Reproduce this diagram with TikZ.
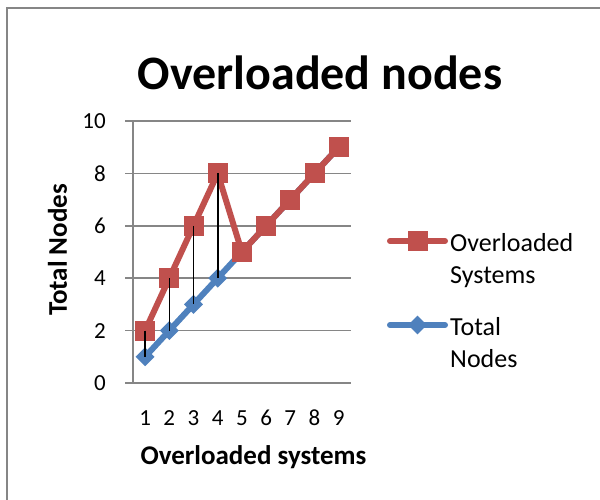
\documentclass[tikz,border=0pt]{standalone}
\usepackage{fontspec}
\setmainfont{Carlito}
\usetikzlibrary{shapes.geometric}
\definecolor{serred}{HTML}{C0504D}
\definecolor{serblue}{HTML}{4F81BD}
\definecolor{gridgray}{HTML}{868686}
\begin{document}
\begin{tikzpicture}[x=1pt,y=1pt,
  gridline/.style={draw=gridgray, line width=1.5pt},
  redseries/.style={draw=serred, line width=6pt, line join=round, line cap=round},
  blueseries/.style={draw=serblue, line width=6pt, line join=round, line cap=round},
  sqmark/.style={rectangle, fill=serred, minimum size=20pt, inner sep=0pt},
  dmmark/.style={diamond, fill=serblue, minimum width=19pt, minimum height=19pt, inner sep=0pt, aspect=1},
  dropline/.style={draw=black, line width=1.6pt},
  ticklabel/.style={font=\fontsize{23}{28}\selectfont, inner sep=0pt},
  axtitle/.style={font=\fontsize{27}{32}\selectfont\bfseries, inner sep=0pt},
  legtext/.style={font=\fontsize{26}{31.5}\selectfont, align=left, inner sep=0pt}
]
% page and chart frame
\fill[white] (0,0) rectangle (600,499);
\useasboundingbox (0,0) rectangle (600,499);
\draw[gridgray, line width=1.5pt] (7,-5) -- (7,491) -- (605,491);

% chart title
\node[font=\fontsize{48}{58}\selectfont\bfseries, anchor=base, inner sep=0pt] (title) at (320,409) {Overloaded nodes};

% plot area: one unit per category horizontally, one unit per node vertically
\begin{scope}[x=24.2pt, y=26.2pt, shift={(120.9pt,116pt)}]
  \foreach \v in {0,2,...,10} {
    \draw[gridline] (0.17,\v) -- (9.5,\v);
    \node[ticklabel, anchor=east] (yl\v) at (-0.616,\v) {\v};
  }
  \draw[gridline] (0.5,0) -- (0.5,10);
  \foreach \i in {1,...,9}
    \node[ticklabel] (xl\i) at (\i,-1.336) {\i};

  % data points
  \foreach \i in {1,...,9}
    \coordinate (tp\i) at (\i,\i);
  \foreach \i/\v in {1/2,2/4,3/6,4/8,5/5,6/6,7/7,8/8,9/9}
    \coordinate (op\i) at (\i,\v);

  % Total Nodes series
  \draw[blueseries] (tp1) -- (tp2) -- (tp3) -- (tp4) -- (tp5) -- (tp6) -- (tp7) -- (tp8) -- (tp9);
  \foreach \i in {1,...,9}
    \node[dmmark] (tm\i) at (tp\i) {};

  % Overloaded Systems series
  \draw[redseries] (op1) -- (op2) -- (op3) -- (op4) -- (op5) -- (op6) -- (op7) -- (op8) -- (op9);
  \foreach \i in {1,...,9}
    \node[sqmark] (om\i) at (op\i) {};

  % high-low lines
  \foreach \i in {1,...,4}
    \draw[dropline] (op\i) -- (tp\i);
\end{scope}

% axis titles
\node[axtitle, rotate=90] (ytitle) at (57.5,249) {Total Nodes};
\node[axtitle, anchor=base] (xtitle) at (253.5,35) {Overloaded systems};

% legend (base anchor of a two-line node sits on its last line)
\coordinate (lra) at (390,258);
\coordinate (lrb) at (445,258);
\draw[redseries] (lra) -- (lrb);
\node[sqmark] (lrm) at (417.5,258) {};
\node[legtext, anchor=base west] (legred) at (450,216) {Overloaded\\Systems};

\coordinate (lba) at (390,174);
\coordinate (lbb) at (445,174);
\draw[blueseries] (lba) -- (lbb);
\node[dmmark] (lbm) at (417.5,174) {};
\node[legtext, anchor=base west] (legblue) at (450,132) {Total\\Nodes};
\end{tikzpicture}
\end{document}
